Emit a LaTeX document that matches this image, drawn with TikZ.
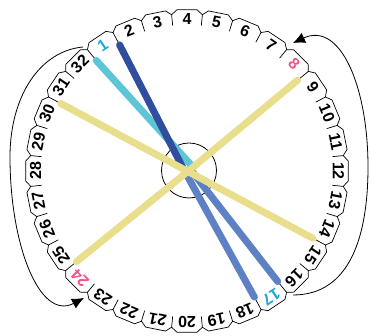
\documentclass[tikz,border=0pt]{standalone}
\usepackage{fontspec}
\setmainfont{Liberation Sans}
\usetikzlibrary{arrows.meta}

\definecolor{thcyan}{HTML}{5CC6D6}
\definecolor{thdark}{HTML}{2F4E9E}
\definecolor{thmed}{HTML}{5E80C4}
\definecolor{thyellow}{HTML}{E8DE8C}
\definecolor{numcyan}{HTML}{1EA9D9}
\definecolor{numpink}{HTML}{F2558D}

\tikzset{
  num/.style={font=\bfseries\fontsize{16}{16}\selectfont, inner sep=0pt},
  lab1/.style={text=numcyan}, lab17/.style={text=numcyan},
  lab8/.style={text=numpink}, lab24/.style={text=numpink},
  thread/.style={line width=7pt, line cap=round},
  turn/.style={line width=0.8pt, -{Latex[length=12pt,width=11pt]}},
}

\begin{document}
\begin{tikzpicture}[x=1pt,y=1pt]
  \useasboundingbox (0,0) rectangle (370,336);
  \coordinate (C) at (187,165);
  \coordinate (hub) at (189,165.5);
  % dial: tabs, slots and numbers
  \begin{scope}[shift={(C)}, line width=0.7pt]
    \draw[line join=round] (129.375:157)
      \foreach \k [evaluate=\k as \a using 135-11.25*\k] in {1,...,32}{
        -- (\a+3.6:161.5) -- (\a-3.6:161.5) -- (\a-5.625:157) } -- cycle;
    \foreach \k [evaluate=\k as \a using 135-11.25*\k] in {1,...,32}{
      \draw (\a-5.625:146) -- (\a-5.625:157);
      \node[num, lab\k/.try, rotate=\a-90] (l\k) at (\a:151.5) {\k};
      \coordinate (n\k) at (\a-5.625:143);
    }
  \end{scope}
  \draw[line width=0.8pt] (hub) circle (27.5);
  % threads
  \coordinate (cyEnd) at (192,170);
  \coordinate (dkEnd) at (183,168);
  \coordinate (mdA) at (190,167);
  \coordinate (mdB) at (184,166);
  \draw[thread, thcyan] (n32) -- (cyEnd);
  \draw[thread, thdark] (n1) -- (dkEnd);
  \draw[thread, thmed] (mdA) -- (n16);
  \draw[thread, thmed] (mdB) -- (n17);
  \draw[thread, thyellow] (n30) -- (n14);
  \draw[thread, thyellow] (n24) -- (hub);
  \draw[thread, thyellow] (n8) -- (hub);
  % turning arrows
  \coordinate (lfrom) at (83,289);
  \coordinate (lto) at (84,38);
  \coordinate (rfrom) at (293,41);
  \coordinate (rto) at (293,293);
  \draw[turn] (lfrom) .. controls (40,285) and (10,240) .. (10,179)
    .. controls (10,90) and (40,15) .. (lto);
  \draw[turn] (rfrom) .. controls (350,41) and (368,100) .. (368,169)
    .. controls (368,250) and (340,315) .. (rto);
\end{tikzpicture}
\end{document}
